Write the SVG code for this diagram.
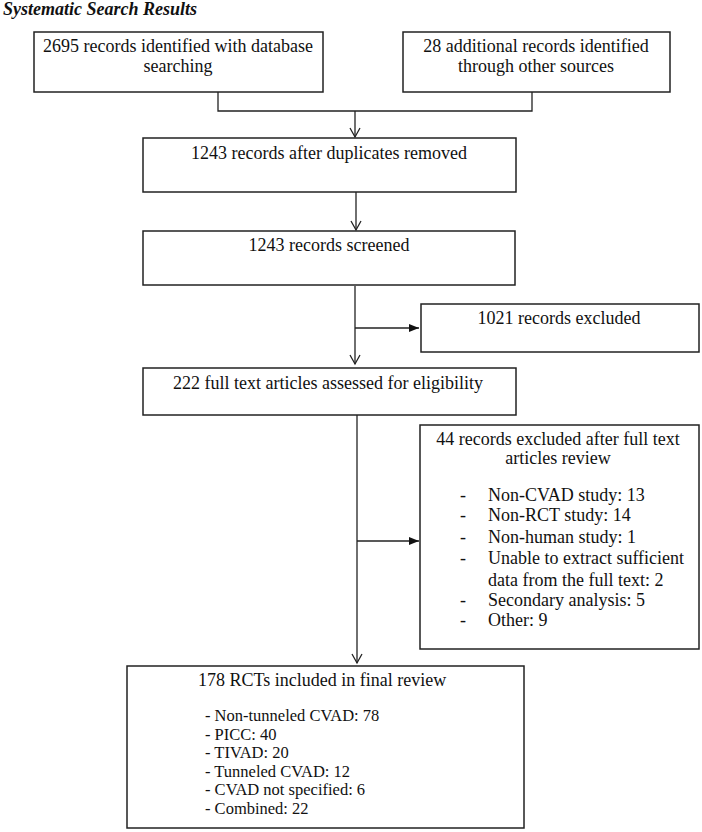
<svg xmlns="http://www.w3.org/2000/svg" width="702" height="832" viewBox="0 0 702 832">
<style>
.box{fill:#fff;stroke:#222;stroke-width:1.5}
.t{font-family:"Liberation Serif","Times New Roman",serif;font-size:18px;fill:#111}
.s{font-size:16.5px}
.c{text-anchor:middle}
.ln{fill:none;stroke:#222;stroke-width:1.3}
</style>
<defs>
<marker id="open" markerWidth="12" markerHeight="12" refX="10" refY="6" orient="auto" markerUnits="userSpaceOnUse">
<path d="M1,1 L10,6 L1,11" fill="none" stroke="#222" stroke-width="1.3"/>
</marker>
<marker id="fill" markerWidth="12" markerHeight="10" refX="10" refY="5" orient="auto" markerUnits="userSpaceOnUse">
<path d="M0,1 L10,5 L0,9 Z" fill="#111"/>
</marker>
</defs>
<rect width="702" height="832" fill="#fff"/>
<text x="3" y="15" style="font-family:'Liberation Serif','Times New Roman',serif;font-size:18px;font-weight:bold;font-style:italic" fill="#111">Systematic Search Results</text>

<g id="connectors">
<path class="ln" d="M218,92 V111 H532 V92"/>
<path class="ln" d="M355,111 V137" marker-end="url(#open)"/>
<path class="ln" d="M356,192 V230" marker-end="url(#open)"/>
<path class="ln" d="M355,286 V364" marker-end="url(#open)"/>
<path class="ln" d="M355,328 H419" marker-end="url(#fill)"/>
<path class="ln" d="M357,415 V663" marker-end="url(#open)"/>
<path class="ln" d="M357,541 H419" marker-end="url(#fill)"/>
</g>

<g id="n1">
<rect class="box" x="34" y="32" width="289" height="60"/>
<text class="t c" x="178" y="52">2695 records identified with database</text>
<text class="t c" x="178" y="72">searching</text>
</g>
<g id="n2">
<rect class="box" x="403" y="32" width="267" height="60"/>
<text class="t c" x="536" y="52">28 additional records identified</text>
<text class="t c" x="536" y="72">through other sources</text>
</g>
<g id="n3">
<rect class="box" x="143" y="138" width="373" height="54"/>
<text class="t c" x="329" y="159">1243 records after duplicates removed</text>
</g>
<g id="n4">
<rect class="box" x="143" y="231" width="372" height="54"/>
<text class="t c" x="329" y="251">1243 records screened</text>
</g>
<g id="n5">
<rect class="box" x="421" y="304" width="278" height="48"/>
<text class="t c" x="559" y="324">1021 records excluded</text>
</g>
<g id="n6">
<rect class="box" x="143" y="368" width="373" height="47"/>
<text class="t c" x="328" y="389">222 full text articles assessed for eligibility</text>
</g>
<g id="n7">
<rect class="box" x="420" y="425" width="279" height="224"/>
<text class="t c" x="558" y="445">44 records excluded after full text</text>
<text class="t c" x="558" y="464">articles review</text>
<g class="t">
<text x="460" y="501">-</text><text x="488" y="501">Non-CVAD study: 13</text>
<text x="460" y="521">-</text><text x="488" y="521">Non-RCT study: 14</text>
<text x="460" y="543">-</text><text x="488" y="543">Non-human study: 1</text>
<text x="460" y="564">-</text><text x="488" y="564">Unable to extract sufficient</text>
<text x="488" y="586">data from the full text: 2</text>
<text x="460" y="606">-</text><text x="488" y="606">Secondary analysis: 5</text>
<text x="460" y="626">-</text><text x="488" y="626">Other: 9</text>
</g>
</g>
<g id="n8">
<rect class="box" x="127" y="666" width="397" height="162"/>
<text class="t" x="198" y="686">178 RCTs included in final review</text>
<g class="t s">
<text x="205" y="721">- Non-tunneled CVAD: 78</text>
<text x="205" y="739.5">- PICC: 40</text>
<text x="205" y="758">- TIVAD: 20</text>
<text x="205" y="776.5">- Tunneled CVAD: 12</text>
<text x="205" y="795">- CVAD not specified: 6</text>
<text x="205" y="813.5">- Combined: 22</text>
</g>
</g>
</svg>
